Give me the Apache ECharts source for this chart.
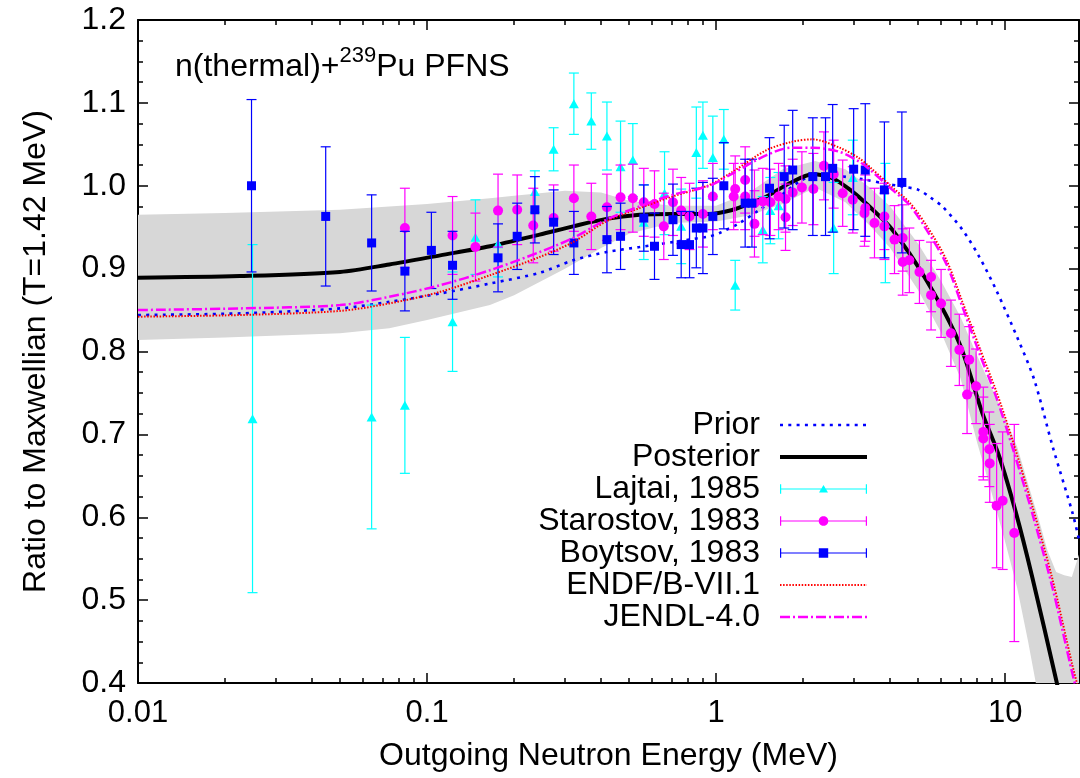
<!DOCTYPE html>
<html>
<head>
<meta charset="utf-8">
<script src="https://cdn.jsdelivr.net/npm/echarts@6.0.0/dist/echarts.min.js"></script>
<style>
html,body{margin:0;padding:0;background:#fff;}
#chart{width:1080px;height:778px;}
</style>
</head>
<body>
<div id="chart"></div>
<script>
// ---------------- data ----------------
const xTickValues = [0.01, 0.1, 1, 10];
const xMinorTickValues = [0.02,0.03,0.04,0.05,0.06,0.07,0.08,0.09,0.2,0.3,0.4,0.5,0.6,0.7,0.8,0.9,2,3,4,5,6,7,8,9];

const priorE = [0.01,0.0225,0.05,0.074,0.111,0.165,0.245,0.32,0.417,0.543,0.706,0.948,1.028,1.205,1.413,1.656,1.941,2.2,2.6,3.2,3.79,4.41,5.01,5.5,6.06,7.11,8.14,9.31,11.1,12.6,14.6,17.1,18.0];
const priorV = [0.844,0.846,0.852,0.860,0.870,0.882,0.895,0.910,0.920,0.926,0.932,0.939,0.943,0.955,0.971,0.987,1.005,1.013,1.012,1.008,1.003,0.999,0.995,0.986,0.975,0.947,0.914,0.874,0.814,0.766,0.685,0.605,0.573];

const postE = [0.01,0.0225,0.05,0.074,0.111,0.165,0.245,0.32,0.417,0.543,0.706,0.948,1.142,1.3,1.494,1.794,2.155,2.525,2.96,3.39,4.07,5.34,6.94,8.33,9.54,10.9,12.4,15.0,16.5];
const postV = [0.889,0.891,0.896,0.905,0.916,0.927,0.941,0.951,0.960,0.965,0.966,0.966,0.971,0.978,0.987,1.003,1.014,1.009,0.993,0.975,0.947,0.886,0.810,0.726,0.673,0.605,0.528,0.404,0.340];

const endfE = [0.01,0.0225,0.05,0.074,0.111,0.165,0.245,0.32,0.417,0.543,0.706,0.948,1.142,1.494,1.83,2.155,2.67,3.13,3.39,4.07,4.66,5.34,6.25,7.11,8.14,9.31,10.58,12.4,14.55,17.06,18.0];
const endfV = [0.842,0.844,0.849,0.858,0.872,0.892,0.914,0.932,0.957,0.973,0.987,1.001,1.017,1.043,1.053,1.056,1.046,1.033,1.023,0.998,0.980,0.952,0.911,0.860,0.805,0.752,0.694,0.614,0.526,0.422,0.390];

const jendlE = [0.01,0.0225,0.05,0.074,0.111,0.165,0.245,0.32,0.417,0.543,0.706,0.948,1.142,1.494,1.83,2.155,2.67,3.13,3.39,4.07,4.66,5.34,6.25,7.11,8.14,9.31,10.58,12.4,14.55,17.06,18.0];
const jendlV = [0.850,0.852,0.856,0.866,0.880,0.898,0.920,0.937,0.959,0.975,0.989,1.000,1.015,1.037,1.046,1.046,1.041,1.029,1.020,0.995,0.977,0.947,0.906,0.854,0.798,0.745,0.685,0.605,0.516,0.412,0.380];

const bandE = [0.01,0.02,0.05,0.074,0.1,0.165,0.2,0.3,0.4,0.5,0.7,1.0,1.3,1.7,2.2,2.8,3.4,4.0,5.0,6.0,7.0,8.0,9.0,10,11,12,13,14,15,16,17,18];
const bandU = [0.965,0.967,0.971,0.975,0.978,0.985,0.988,0.994,0.992,0.982,0.976,0.976,0.992,1.020,1.030,1.020,0.998,0.975,0.930,0.885,0.842,0.795,0.755,0.720,0.685,0.640,0.600,0.560,0.534,0.530,0.528,0.555];
const bandL = [0.814,0.817,0.822,0.828,0.838,0.856,0.868,0.900,0.925,0.942,0.955,0.957,0.964,0.978,0.998,0.980,0.952,0.925,0.874,0.823,0.768,0.690,0.628,0.570,0.515,0.450,0.385,0.330,0.280,0.230,0.180,0.130];

const lajtaiE = [0.0249,0.0643,0.0838,0.1225,0.147,0.176,0.236,0.274,0.322,0.370,0.419,0.467,0.515,0.562,0.663,0.757,0.854,0.900,0.974,1.063,1.164,1.45,1.54,1.644,2.55,2.97,3.85];
const lajtaiV = [0.719,0.721,0.735,0.836,0.938,0.930,0.993,1.044,1.099,1.078,1.060,1.023,1.031,0.956,0.991,0.951,1.040,1.061,1.034,1.056,0.880,0.947,0.970,0.976,0.949,1.010,0.955];
const lajtaiErr = [0.210,0.135,0.082,0.060,0.045,0.040,0.025,0.026,0.037,0.034,0.041,0.055,0.044,0.045,0.050,0.045,0.055,0.040,0.050,0.036,0.030,0.040,0.040,0.040,0.055,0.045,0.072];

const starE = [0.0838,0.1225,0.147,0.176,0.205,0.233,0.274,0.322,0.370,0.419,0.467,0.515,0.562,0.612,0.659,0.709,0.757,0.809,0.900,0.974,1.15,1.164,1.26,1.26,1.357,1.357,1.45,1.54,1.644,1.738,1.738,1.84,1.98,2.17,2.36,2.55,2.74,2.97,3.26,3.28,3.53,3.82,3.82,4.14,4.42,4.42,4.66,5.05,5.54,5.54,6.0,6.49,6.94,7.51,7.38,7.93,8.40,8.40,8.81,8.84,9.34,9.8,10.75];
const starV = [0.949,0.940,0.926,0.970,0.971,0.952,0.961,0.985,0.963,0.974,0.986,0.985,0.980,0.978,0.951,0.980,0.970,0.963,0.966,0.987,0.987,0.996,1.007,0.987,0.954,0.979,0.981,0.980,0.987,0.962,0.984,0.992,0.998,0.996,1.024,1.014,0.991,0.983,0.967,0.973,0.955,0.963,0.951,0.935,0.937,0.908,0.910,0.896,0.890,0.868,0.858,0.822,0.802,0.790,0.748,0.758,0.703,0.695,0.682,0.665,0.614,0.620,0.581];
const starErr = [0.048,0.047,0.041,0.044,0.042,0.045,0.040,0.040,0.040,0.040,0.039,0.041,0.041,0.040,0.040,0.040,0.040,0.040,0.040,0.040,0.040,0.040,0.040,0.040,0.040,0.040,0.040,0.040,0.040,0.040,0.040,0.040,0.043,0.043,0.041,0.041,0.040,0.040,0.040,0.040,0.042,0.040,0.040,0.041,0.040,0.040,0.039,0.038,0.042,0.042,0.041,0.040,0.043,0.040,0.047,0.045,0.054,0.050,0.045,0.047,0.075,0.083,0.131];

const boyE = [0.0247,0.0446,0.0643,0.0838,0.1035,0.1225,0.176,0.205,0.236,0.274,0.322,0.419,0.467,0.562,0.612,0.709,0.757,0.809,0.854,0.900,0.974,1.063,1.26,1.33,1.53,1.72,1.84,2.16,2.39,2.53,2.99,3.28,3.82,4.39];
const boyV = [1.000,0.963,0.931,0.897,0.922,0.904,0.913,0.939,0.971,0.956,0.931,0.935,0.939,0.961,0.927,0.959,0.929,0.929,0.949,0.949,0.963,1.000,0.979,0.979,0.997,1.011,1.019,1.011,1.011,1.021,1.020,1.019,0.995,1.004];
const boyErr = [0.104,0.084,0.058,0.048,0.046,0.041,0.041,0.040,0.040,0.039,0.038,0.040,0.040,0.040,0.040,0.043,0.040,0.040,0.048,0.055,0.046,0.052,0.053,0.053,0.061,0.062,0.072,0.071,0.071,0.077,0.073,0.080,0.082,0.085];

// ---------------- styling ----------------
const FONT = '"Liberation Sans", Arial, Helvetica, sans-serif';
const FS = 32;
const CAP = 5;
const gridBox = {left: 138, top: 20, right: 1, bottom: 95};

const pairs = (E, V) => E.map((e, i) => [e, V[i]]);
const fmtX = v => String(Number(v.toPrecision(3)));

// legend icon paths (icon box IW x IH, visible part starts at L0)
const IW = 102, IH = 14, L0 = 15, CY = 7;
const anchors = `M0 0 L0.01 0 L0 0.01 Z M${IW} ${IH} L${IW - 0.01} ${IH} L${IW} ${IH - 0.01} Z `;
const rectP = (x, y, w, h) => `M${x} ${y} L${x + w} ${y} L${x + w} ${y + h} L${x} ${y + h} Z `;
function dashIcon(pattern, thick) {
  let p = anchors, x = L0, i = 0;
  while (x < IW - 0.01) {
    const len = pattern[i % pattern.length];
    if (i % 2 === 0) p += rectP(x, CY - thick / 2, Math.min(len, IW - x), thick);
    x += len; i++;
  }
  return 'path://' + p;
}
function errIcon(marker) {
  let p = anchors + rectP(L0, CY - 0.6, IW - L0, 1.2) + rectP(L0, CY - 4.7, 1.2, 9.4) + rectP(IW - 1.2, CY - 4.7, 1.2, 9.4);
  const cx = (L0 + IW) / 2;
  if (marker === 'triangle') {
    p += `M${cx} ${CY - 4} L${cx + 4.5} ${CY + 3.5} L${cx - 4.5} ${CY + 3.5} Z `;
  } else if (marker === 'circle') {
    const r = 4.8; let s = '';
    for (let k = 0; k < 24; k++) {
      const a = k / 24 * Math.PI * 2;
      s += (k === 0 ? 'M' : 'L') + (cx + r * Math.cos(a)).toFixed(2) + ' ' + (CY + r * Math.sin(a)).toFixed(2) + ' ';
    }
    p += s + 'Z ';
  } else {
    p += rectP(cx - 4.7, CY - 4.7, 9.4, 9.4);
  }
  return 'path://' + p;
}

function errSeries(name, E, V, Er, color, z) {
  return {
    type: 'custom', name: name + ' (err)', xAxisIndex: 0, yAxisIndex: 0, z: z, clip: true,
    itemStyle: {color: color},
    data: E.map((e, i) => [e, V[i], Er[i]]),
    encode: {x: 0, y: 1},
    renderItem: function (params, api) {
      const x = api.value(0), y = api.value(1), er = api.value(2);
      const t = api.coord([x, y + er]), b = api.coord([x, y - er]);
      const st = {stroke: color, lineWidth: 1.2, fill: null};
      return {type: 'group', children: [
        {type: 'line', shape: {x1: t[0], y1: t[1], x2: b[0], y2: b[1]}, style: st},
        {type: 'line', shape: {x1: t[0] - CAP, y1: t[1], x2: t[0] + CAP, y2: t[1]}, style: st},
        {type: 'line', shape: {x1: b[0] - CAP, y1: b[1], x2: b[0] + CAP, y2: b[1]}, style: st}
      ]};
    }
  };
}
function pointSeries(name, E, V, color, symbol, size, z) {
  return {type: 'scatter', name: name, xAxisIndex: 0, yAxisIndex: 0, z: z,
    data: pairs(E, V), symbol: symbol, symbolSize: size,
    itemStyle: {color: color, opacity: 1}, emphasis: {disabled: true}};
}
function lineSeries(name, E, V, color, width, dash, z) {
  return {type: 'line', name: name, xAxisIndex: 0, yAxisIndex: 0, z: z,
    data: pairs(E, V), symbol: 'circle', symbolSize: 0, showSymbol: false, smooth: 0.3,
    lineStyle: {color: color, width: width, type: dash},
    itemStyle: {color: color}, emphasis: {disabled: true}};
}

const axisLineStyle = {show: true, lineStyle: {color: '#000', width: 2}};
const tickStyle = {color: '#000', width: 1.5};

const option = {
  animation: false,
  backgroundColor: '#ffffff',
  textStyle: {fontFamily: FONT},
  title: {
    text: '{a|n(thermal)+}{s|239}{a|Pu PFNS}',
    left: 170, top: 40,
    textStyle: {
      fontWeight: 'normal',
      rich: {
        a: {fontSize: 32, fontFamily: FONT, fontWeight: 'normal', color: '#000', lineHeight: 44},
        s: {fontSize: 22, fontFamily: FONT, fontWeight: 'normal', color: '#000', lineHeight: 22, verticalAlign: 'top'}
      }
    }
  },
  grid: [Object.assign({}, gridBox), Object.assign({}, gridBox)],
  xAxis: [
    {type: 'log', gridIndex: 0, position: 'bottom', min: 0.01, max: 18, logBase: 10,
     axisLine: axisLineStyle,
     axisTick: {show: true, inside: true, length: 10, lineStyle: tickStyle, customValues: xTickValues},
     axisLabel: {show: true, fontSize: 31, color: '#000', margin: 15, fontFamily: FONT, customValues: xTickValues, formatter: fmtX},
     splitLine: {show: false}, minorTick: {show: false},
     name: 'Outgoing Neutron Energy (MeV)', nameLocation: 'middle', nameGap: 57,
     nameTextStyle: {fontSize: FS, color: '#000', fontFamily: FONT}},
    {type: 'log', gridIndex: 0, position: 'top', min: 0.01, max: 18, logBase: 10,
     axisLine: axisLineStyle,
     axisTick: {show: true, inside: true, length: 10, lineStyle: tickStyle, customValues: xTickValues},
     axisLabel: {show: false}, splitLine: {show: false}},
    {type: 'log', gridIndex: 1, position: 'bottom', min: 0.01, max: 18, logBase: 10,
     axisLine: {show: false},
     axisTick: {show: true, inside: true, length: 5, lineStyle: tickStyle, customValues: xMinorTickValues},
     axisLabel: {show: false}, splitLine: {show: false}},
    {type: 'log', gridIndex: 1, position: 'top', min: 0.01, max: 18, logBase: 10,
     axisLine: {show: false},
     axisTick: {show: true, inside: true, length: 5, lineStyle: tickStyle, customValues: xMinorTickValues},
     axisLabel: {show: false}, splitLine: {show: false}}
  ],
  yAxis: [
    {type: 'value', gridIndex: 0, position: 'left', min: 0.4, max: 1.2, interval: 0.1,
     axisLine: axisLineStyle,
     axisTick: {show: true, inside: true, length: 10, lineStyle: tickStyle},
     minorTick: {show: true, splitNumber: 4, length: 5, lineStyle: tickStyle},
     axisLabel: {show: true, fontSize: FS, color: '#000', margin: 12, fontFamily: FONT, formatter: v => v.toFixed(1)},
     splitLine: {show: false},
     name: 'Ratio to Maxwellian (T=1.42 MeV)', nameLocation: 'middle', nameGap: 86,
     nameTextStyle: {fontSize: FS, color: '#000', fontFamily: FONT}},
    {type: 'value', gridIndex: 0, position: 'right', min: 0.4, max: 1.2, interval: 0.1,
     axisLine: axisLineStyle,
     axisTick: {show: true, inside: true, length: 10, lineStyle: tickStyle},
     minorTick: {show: true, splitNumber: 4, length: 5, lineStyle: tickStyle},
     axisLabel: {show: false}, splitLine: {show: false}},
    {type: 'value', gridIndex: 1, min: 0.4, max: 1.2, show: false}
  ],
  legend: {
    orient: 'vertical', right: 213, top: 409, padding: 0,
    itemWidth: IW, itemHeight: IH, itemGap: 0, align: 'right',
    selectedMode: false, symbolKeepAspect: true,
    itemStyle: {borderWidth: 0},
    textStyle: {fontSize: FS, color: '#000', fontFamily: FONT, lineHeight: 32},
    data: [
      {name: 'Prior', icon: dashIcon([3, 5.3], 2.6)},
      {name: 'Posterior', icon: dashIcon([IW], 4)},
      {name: 'Lajtai, 1985', icon: errIcon('triangle')},
      {name: 'Starostov, 1983', icon: errIcon('circle')},
      {name: 'Boytsov, 1983', icon: errIcon('rect')},
      {name: 'ENDF/B-VII.1', icon: dashIcon([1.5, 1.6], 2)},
      {name: 'JENDL-4.0', icon: dashIcon([10, 3, 2, 3], 2.5)}
    ]
  },
  series: [
    {type: 'custom', name: 'band', xAxisIndex: 0, yAxisIndex: 0, z: 1, clip: true,
     data: bandE.map((e, i) => [e, bandU[i], bandL[i]]),
     encode: {x: 0, y: 1},
     renderItem: function (params, api) {
       if (params.dataIndex !== 0) return null;
       const pts = [];
       for (let i = 0; i < bandE.length; i++) pts.push(api.coord([bandE[i], bandU[i]]));
       for (let i = bandE.length - 1; i >= 0; i--) pts.push(api.coord([bandE[i], bandL[i]]));
       return {type: 'polygon', shape: {points: pts, smooth: 0}, style: {fill: '#d7d7d7', stroke: null}};
     }},
    lineSeries('Prior', priorE, priorV, '#0000ff', 2.6, [3, 5.3], 2),
    lineSeries('Posterior', postE, postV, '#000000', 4, 'solid', 3),
    errSeries('Lajtai, 1985', lajtaiE, lajtaiV, lajtaiErr, '#00ffff', 4),
    pointSeries('Lajtai, 1985', lajtaiE, lajtaiV, '#00ffff', 'triangle', [10, 9], 4),
    errSeries('Starostov, 1983', starE, starV, starErr, '#ff00ff', 5),
    pointSeries('Starostov, 1983', starE, starV, '#ff00ff', 'circle', 10, 5),
    errSeries('Boytsov, 1983', boyE, boyV, boyErr, '#0000ff', 6),
    pointSeries('Boytsov, 1983', boyE, boyV, '#0000ff', 'rect', 9, 6),
    lineSeries('ENDF/B-VII.1', endfE, endfV, '#ff0000', 2, [1.5, 1.6], 7),
    lineSeries('JENDL-4.0', jendlE, jendlV, '#ff00ff', 2.5, [10, 3, 2, 3], 8)
  ]
};

const chart = echarts.init(document.getElementById('chart'), null, {renderer: 'canvas', width: 1080, height: 778});
chart.setOption(option);
</script>
</body>
</html>
